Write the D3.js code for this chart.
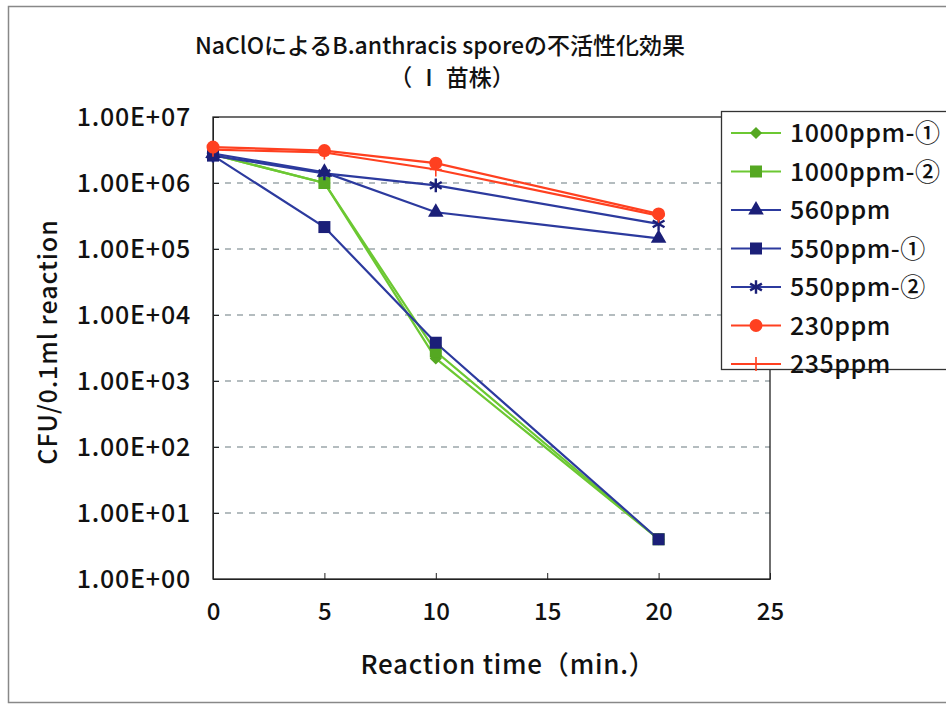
<!DOCTYPE html>
<html><head><meta charset="utf-8">
<script src="https://cdn.jsdelivr.net/npm/d3@7"></script>
<style>body{margin:0;background:#fff;} text{font-family:"Noto Sans CJK JP",sans-serif;}</style>
</head><body>
<svg id="c" width="946" height="705"></svg>
<script>
const times = [0, 5, 10, 20];
const seriesNames = ["1000ppm-①","1000ppm-②","560ppm","550ppm-①","550ppm-②","230ppm","235ppm"];
const v1000a = [2.7e6, 1.0e6, 2.2e3, 4];
const v1000b = [2.7e6, 1.0e6, 2.8e3, 4];
const v560 = [2.8e6, 1.45e6, 3.6e5, 1.45e5];
const v550a = [2.6e6, 2.15e5, 3.8e3, 4];
const v550b = [2.6e6, 1.4e6, 9.2e5, 2.4e5];
const v230 = [3.5e6, 3.1e6, 2.0e6, 3.4e5];
const v235 = [3.2e6, 2.9e6, 1.6e6, 3.2e5];
const xTicks = [0, 5, 10, 15, 20, 25];
const yTicks = [1e0, 1e1, 1e2, 1e3, 1e4, 1e5, 1e6, 1e7];
const yTickLabels = ["1.00E+00","1.00E+01","1.00E+02","1.00E+03","1.00E+04","1.00E+05","1.00E+06","1.00E+07"];

const svg = d3.select("#c");
const FONT = '"Noto Sans CJK JP", sans-serif';
const green = "#6cc832", greenM = "#55a822", navyL = "#2c3a9e", navyM = "#1b1f78", red = "#ff4020";
const series = [
  {name: seriesNames[0], vals: v1000a, line: green, mk: greenM, sym: "diamond"},
  {name: seriesNames[1], vals: v1000b, line: green, mk: greenM, sym: "square"},
  {name: seriesNames[2], vals: v560, line: navyL, mk: navyM, sym: "triangle"},
  {name: seriesNames[3], vals: v550a, line: navyL, mk: navyM, sym: "square"},
  {name: seriesNames[4], vals: v550b, line: navyL, mk: navyM, sym: "star"},
  {name: seriesNames[5], vals: v230, line: red, mk: red, sym: "circle"},
  {name: seriesNames[6], vals: v235, line: red, mk: red, sym: "plus"}
];

// outer frame
svg.append("rect").attr("x", 8.5).attr("y", 6.5).attr("width", 1000).attr("height", 696)
  .attr("fill", "none").attr("stroke", "#888").attr("stroke-width", 1.5);

const L = 213, R = 770, T = 117, B = 579;
const x = d3.scaleLinear().domain([0, 25]).range([L, R]);
const y = d3.scaleLog().domain([1, 1e7]).range([B, T]);

// gridlines
svg.append("g").selectAll("line").data(yTicks.slice(1, -1)).join("line")
  .attr("x1", L).attr("x2", R).attr("y1", d => y(d)).attr("y2", d => y(d))
  .attr("stroke", "#6a7a80").attr("stroke-width", 1.2).attr("stroke-dasharray", "6,6");

// plot border
svg.append("rect").attr("x", L).attr("y", T).attr("width", R - L).attr("height", B - T)
  .attr("fill", "none").attr("stroke", "#222").attr("stroke-width", 1.3);

// axes
const xAxis = svg.append("g").attr("transform", `translate(0,${B})`)
  .call(d3.axisBottom(x).tickValues(xTicks).tickSizeInner(-6).tickSizeOuter(0).tickPadding(24));
const yAxis = svg.append("g").attr("transform", `translate(${L},0)`)
  .call(d3.axisLeft(y).tickValues(yTicks).tickFormat((d, i) => yTickLabels[i]).tickSizeInner(-6).tickSizeOuter(0).tickPadding(22));
[xAxis, yAxis].forEach(a => {
  a.select(".domain").attr("stroke", "#222");
  a.selectAll(".tick line").attr("stroke", "#222");
  a.selectAll(".tick text").attr("font-size", 24).attr("fill", "#111").attr("font-family", FONT).attr("font-weight", 500);
});
yAxis.selectAll(".tick text").attr("font-size", 25).attr("letter-spacing", 0.8);

// symbols
function drawSym(g, sym, cx, cy, col) {
  if (sym === "diamond") g.append("path").attr("d", d3.symbol(d3.symbolDiamond2, 95)()).attr("transform", `translate(${cx},${cy})`).attr("fill", col);
  else if (sym === "square") g.append("rect").attr("x", cx - 6).attr("y", cy - 6).attr("width", 12).attr("height", 12).attr("fill", col);
  else if (sym === "triangle") g.append("path").attr("d", d3.symbol(d3.symbolTriangle, 105)()).attr("transform", `translate(${cx},${cy})`).attr("fill", col);
  else if (sym === "circle") g.append("circle").attr("cx", cx).attr("cy", cy).attr("r", 6.5).attr("fill", col);
  else if (sym === "star") g.append("path").attr("d", d3.symbol(d3.symbolAsterisk, 130)()).attr("transform", `translate(${cx},${cy})`).attr("stroke", col).attr("stroke-width", 2.4).attr("fill", "none");
  else if (sym === "plus") g.append("path").attr("d", `M${cx-6},${cy}H${cx+6}M${cx},${cy-7}V${cy+7}`).attr("stroke", col).attr("stroke-width", 1.6);
}

const line = d3.line().x((d, i) => x(times[i])).y(d => y(d));
const gData = svg.append("g");
series.forEach(s => {
  gData.append("path").attr("d", line(s.vals)).attr("fill", "none").attr("stroke", s.line).attr("stroke-width", 2.2);
});
series.forEach(s => {
  s.vals.forEach((v, i) => drawSym(gData, s.sym, x(times[i]), y(v), s.mk));
});

// title
svg.append("text").attr("x", 440).attr("y", 54).attr("text-anchor", "middle").attr("font-size", 23).attr("fill", "#111")
  .attr("font-family", FONT).attr("font-weight", 500).text("NaClOによるB.anthracis sporeの不活性化効果");
svg.append("text").attr("x", 452).attr("y", 86).attr("text-anchor", "middle").attr("font-size", 23).attr("fill", "#111")
  .attr("font-family", FONT).attr("font-weight", 500).text("（ Ⅰ 苗株）");

// axis titles
svg.append("text").attr("x", 508).attr("y", 674).attr("text-anchor", "middle").attr("font-size", 26).attr("letter-spacing", 0.8).attr("fill", "#111")
  .attr("font-family", FONT).attr("font-weight", 500).text("Reaction time（min.）");
svg.append("text").attr("transform", "translate(57,342) rotate(-90)").attr("text-anchor", "middle").attr("font-size", 25).attr("letter-spacing", 0.9).attr("fill", "#111")
  .attr("font-family", FONT).attr("font-weight", 500).text("CFU/0.1ml reaction");

// legend
const lg = svg.append("g");
lg.append("rect").attr("x", 721.5).attr("y", 111.5).attr("width", 300).attr("height", 258)
  .attr("fill", "#fff").attr("stroke", "#333").attr("stroke-width", 1.3);
series.forEach((s, i) => {
  const cy = 133 + i * 38.5;
  lg.append("line").attr("x1", 731).attr("x2", 781).attr("y1", cy).attr("y2", cy).attr("stroke", s.line).attr("stroke-width", 2.2);
  drawSym(lg, s.sym, 756, cy, s.mk);
  lg.append("text").attr("x", 790).attr("y", cy + 9).attr("font-size", 25).attr("letter-spacing", 0.5).attr("fill", "#111")
    .attr("font-family", FONT).attr("font-weight", 500).text(s.name);
});
</script>
</body></html>
